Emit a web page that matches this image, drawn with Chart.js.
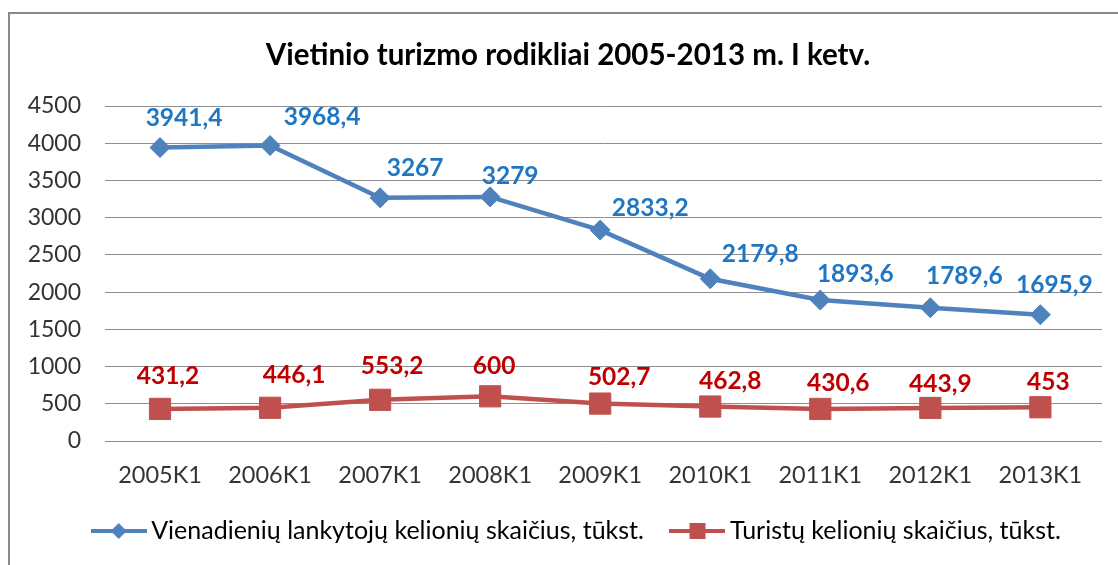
<!DOCTYPE html>
<html><head><meta charset="utf-8">
<script src="https://cdn.jsdelivr.net/npm/chart.js@4/dist/chart.umd.min.js"></script>
<style>
html,body{margin:0;padding:0;background:#fff;overflow:hidden;}
#wrap{position:relative;width:1118px;height:565px;overflow:hidden;}
#frame{position:absolute;left:8px;top:12px;width:1200px;height:700px;border:2px solid #8a8a8a;box-sizing:border-box;pointer-events:none;}
canvas{position:absolute;left:0;top:0;}
</style></head><body>
<div id="wrap"><canvas id="c" width="1118" height="565"></canvas><div id="frame"></div></div>
<script>
const categories = ['2005K1','2006K1','2007K1','2008K1','2009K1','2010K1','2011K1','2012K1','2013K1'];
const dayVisitorTrips = [3941.4, 3968.4, 3267, 3279, 2833.2, 2179.8, 1893.6, 1789.6, 1695.9];
const touristTrips = [431.2, 446.1, 553.2, 600, 502.7, 462.8, 430.6, 443.9, 453];
const seriesNames = ['Vienadienių lankytojų kelionių skaičius, tūkst.', 'Turistų kelionių skaičius, tūkst.'];
const yTicks = [0, 500, 1000, 1500, 2000, 2500, 3000, 3500, 4000, 4500];
const titleText = 'Vietinio turizmo rodikliai 2005-2013 m. I ketv.';

const BLUE = '#4F81BD', RED = '#C0504D';
const fmt = v => String(v).replace('.', ',');

function legendIcon(color, shape) {
  const c = document.createElement('canvas');
  c.width = 56; c.height = 24;
  const g = c.getContext('2d');
  g.strokeStyle = color; g.lineWidth = 4;
  g.beginPath(); g.moveTo(0, 12); g.lineTo(56, 12); g.stroke();
  g.fillStyle = color;
  g.beginPath();
  if (shape === 'diamond') {
    g.moveTo(20, 12); g.lineTo(28, 4); g.lineTo(36, 12); g.lineTo(28, 20); g.closePath();
  } else {
    g.rect(20, 4, 16, 16);
  }
  g.fill();
  return c;
}
const icons = [legendIcon(BLUE, 'diamond'), legendIcon(RED, 'square')];

const labelPlugin = {
  id: 'pointLabels',
  afterDatasetsDraw(chart, args, opts) {
    const ctx = chart.ctx;
    chart.data.datasets.forEach((ds, di) => {
      const meta = chart.getDatasetMeta(di);
      const off = opts.offsets[di];
      ctx.save();
      ctx.font = opts.font;
      ctx.fillStyle = opts.colors[di];
      ctx.textAlign = 'center';
      ctx.textBaseline = 'middle';
      meta.data.forEach((pt, i) => {
        ctx.fillText(fmt(ds.data[i].y), pt.x + off.dx[i], pt.y + off.dy[i]);
      });
      ctx.restore();
    });
  }
};

const boxShift = {
  id: 'boxShift',
  afterLayout(chart, args, opts) {
    if (chart.legend) { chart.legend.left += opts.legendDx; chart.legend.right += opts.legendDx; }
    if (chart.titleBlock) { chart.titleBlock.left += opts.titleDx; chart.titleBlock.right += opts.titleDx; }
  }
};

new Chart(document.getElementById('c'), {
  type: 'line',
  data: {
    datasets: [
      {
        label: seriesNames[0],
        data: dayVisitorTrips.map((v, i) => ({x: i, y: v})),
        borderColor: BLUE, backgroundColor: BLUE,
        borderWidth: 4.5, tension: 0,
        pointStyle: 'rectRot', pointRadius: 10, pointBorderWidth: 1,
        pointBackgroundColor: BLUE, pointBorderColor: BLUE
      },
      {
        label: seriesNames[1],
        data: touristTrips.map((v, i) => ({x: i, y: v})),
        borderColor: RED, backgroundColor: RED,
        borderWidth: 4.5, tension: 0,
        pointStyle: 'rect', pointRadius: 15, pointBorderWidth: 1,
        pointBackgroundColor: RED, pointBorderColor: RED
      }
    ]
  },
  options: {
    responsive: false,
    animation: false,
    devicePixelRatio: 1,
    layout: { padding: { left: 10, right: 14, top: 0, bottom: 11.5 } },
    scales: {
      x: {
        type: 'linear',
        min: -0.5, max: 8.56,
        grid: { display: false, drawTicks: false },
        border: { display: false },
        afterBuildTicks: s => { s.ticks = categories.map((_, i) => ({value: i})); },
        afterFit: s => { s.height = 44; },
        ticks: {
          callback: v => categories[v],
          font: { family: 'Lato', size: 23.5 },
          color: '#333', padding: 20, maxRotation: 0, autoSkip: false
        }
      },
      y: {
        min: 0, max: 4500,
        afterBuildTicks: s => { s.ticks = yTicks.map(v => ({value: v})); },
        afterFit: s => { s.width = 95; },
        grid: { color: '#8e8e8e', lineWidth: 1, drawTicks: false },
        border: { display: false },
        ticks: {
          callback: v => String(v),
          font: { family: 'Lato', size: 23 },
          color: '#333', padding: 24
        }
      }
    },
    plugins: {
      title: {
        display: true, text: titleText, color: '#000',
        font: { family: 'Lato', size: 29.5, weight: 'bold' },
        padding: { top: 38, bottom: 32.6 }
      },
      legend: {
        position: 'bottom',
        labels: {
          usePointStyle: true, pointStyleWidth: 40, boxHeight: 22,
          font: { family: 'Lato', size: 25 }, color: '#333', padding: 33.5,
          generateLabels: chart => chart.data.datasets.map((ds, i) => ({
            text: ds.label, pointStyle: icons[i], fillStyle: ds.borderColor,
            strokeStyle: ds.borderColor, lineWidth: 0, hidden: false, datasetIndex: i
          }))
        }
      },
      tooltip: { enabled: false },
      boxShift: { legendDx: 22.75, titleDx: 11 },
      pointLabels: {
        font: 'bold 24.5px Lato',
        colors: ['#1F77C4', '#C00000'],
        offsets: [
          { dx: [24, 52, 35, 20, 50, 50, 35, 34, 14], dy: [-29, -28, -30, -21, -22, -25, -26, -32, -30] },
          { dx: [8, 24, 12, 4, 19, 20, 18, 10, 8], dy: [-33, -33, -34, -30, -26, -25, -26, -24, -25] }
        ]
      }
    }
  },
  plugins: [labelPlugin, boxShift]
});
</script>
</body></html>
